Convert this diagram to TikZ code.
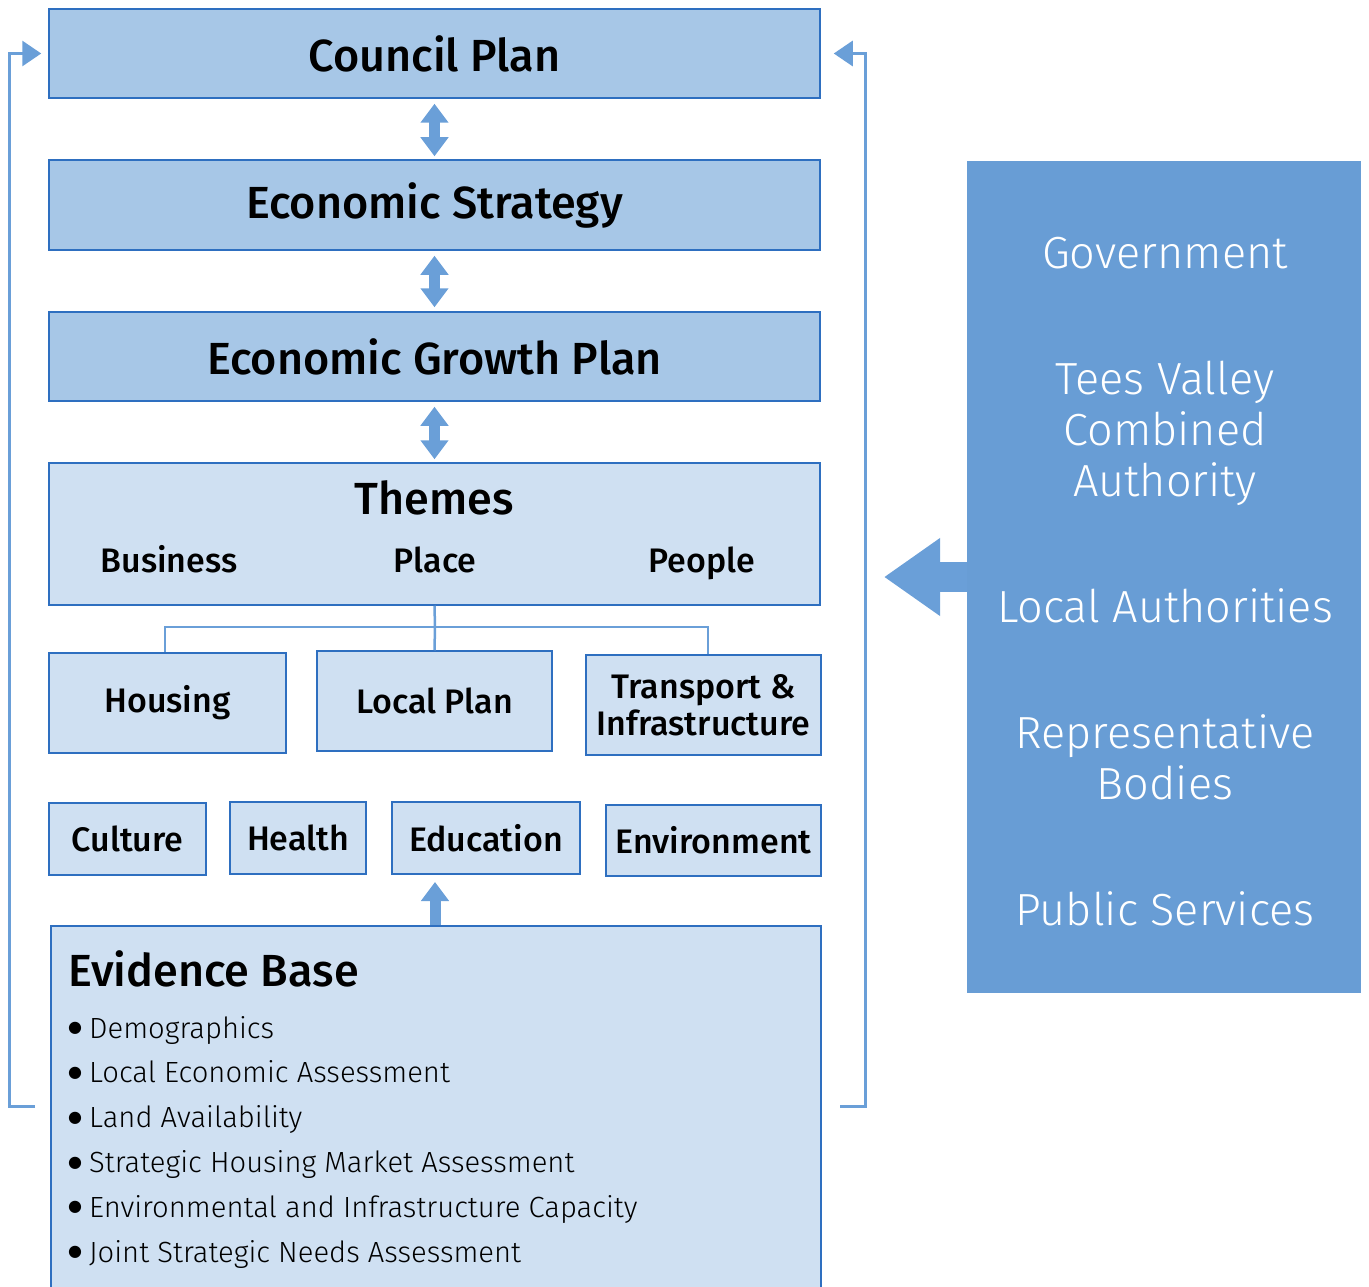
\documentclass[tikz,border=0pt]{standalone}
\usepackage{fontspec}
\setmainfont{Fira Sans}
\newfontfamily\lightfont{Fira Sans Light}
\newfontfamily\medfont{Fira Sans Medium}
\newfontfamily\symfont{DejaVu Sans}
\usetikzlibrary{arrows.meta}

\definecolor{boxdark}{HTML}{A7C7E7}
\definecolor{boxlight}{HTML}{CFE0F2}
\definecolor{edge}{HTML}{2E6FC0}
\definecolor{link}{HTML}{6A9FD8}
\definecolor{panelblue}{HTML}{689DD5}

\newcommand{\fsz}[1]{\fontsize{#1}{#1}\selectfont}
\newcommand{\evbullet}{\raisebox{5.5pt}{\symfont\fontsize{16}{16}\selectfont ●}\hspace{7pt}}

\begin{document}
\begin{tikzpicture}[x=1pt,y=-1pt,
  planbox/.style={draw=edge, line width=1.5pt, fill=boxdark, inner sep=0pt,
    font=\medfont\fsz{45}},
  themebox/.style={draw=edge, line width=1.5pt, fill=boxlight, inner sep=0pt},
  subbox/.style={themebox, font=\medfont\fsz{34}, align=center},
  smallbox/.style={themebox, font=\medfont\fsz{34}},
  themelabel/.style={inner sep=0pt, anchor=base, font=\medfont\fsz{34}},
  paneltext/.style={inner sep=0pt, anchor=base, text=white, font=\lightfont\fsz{45}},
  dblarrow/.style={draw=link, line width=11pt,
    {Triangle[width=27pt,length=19pt]}-{Triangle[width=27pt,length=19pt]}},
  uparrow/.style={draw=link, line width=11pt, -{Triangle[width=27pt,length=19pt]}},
  bigarrow/.style={draw=link, line width=30pt, -{Triangle[width=74pt,length=56pt]}},
  tree/.style={draw=link, line width=2.5pt},
  loopline/.style={draw=link, line width=3pt, -{Triangle[width=25pt,length=19pt]}},
]
\useasboundingbox (0,0) rectangle (1369,1287);

% main plan chain
\node[planbox, minimum width=771pt, minimum height=89pt] (council) at (434.5,53.5) {Council Plan};
\node[planbox, minimum width=771pt, minimum height=90pt] (strategy) at (434.5,205) {Economic Strategy};
\node[planbox, minimum width=771pt, minimum height=89pt] (growth) at (434.5,356.5) {Economic Growth Plan};

% themes
\node[themebox, minimum width=771pt, minimum height=142pt] (themes) at (434.5,534) {};
\node[themelabel, font=\medfont\fsz{45}] (themetitle) at (434.5,514) {Themes};
\node[themelabel] (business) at (169,572) {Business};
\node[themelabel] (place) at (435,572) {Place};
\node[themelabel] (people) at (702,572) {People};

% plans under the themes
\node[subbox, minimum width=237pt, minimum height=100pt] (housing) at (167.5,703) {Housing};
\node[subbox, minimum width=235pt, minimum height=100pt] (localplan) at (434.5,701) {Local Plan};
\node[subbox, minimum width=235pt, minimum height=100pt] (transport) at (703.5,705)
  {Transport \&\\[3pt]Infrastructure};

\node[smallbox, minimum width=157pt, minimum height=72pt] (culture) at (127.5,839) {Culture};
\node[smallbox, minimum width=136pt, minimum height=72pt] (health) at (298,838) {Health};
\node[smallbox, minimum width=188pt, minimum height=72pt] (education) at (486,838) {Education};
\node[smallbox, minimum width=215pt, minimum height=71pt] (environment) at (713.5,840.5) {Environment};

% evidence base
\node[themebox, minimum width=770pt, minimum height=370pt] (evidence) at (436,1111) {};
\node[inner sep=0pt, anchor=base west, font=\medfont\fsz{45}] (evtitle) at (68,986) {Evidence Base};
\node[inner sep=0pt, anchor=north west, align=left, font=\lightfont\fontsize{29.2}{44.8}\selectfont] (evitems) at (68,1016)
  {\evbullet Demographics\\
   \evbullet Local Economic Assessment\\
   \evbullet Land Availability\\
   \evbullet Strategic Housing Market Assessment\\
   \evbullet Environmental and Infrastructure Capacity\\
   \evbullet Joint Strategic Needs Assessment};

% partners panel
\node[fill=panelblue, minimum width=394pt, minimum height=832pt, inner sep=0pt] (panel) at (1164,577) {};
\node[paneltext] (gov) at (1165,268) {Government};
\node[paneltext] (teesA) at (1165,394) {Tees Valley};
\node[paneltext] (teesB) at (1165,445) {Combined};
\node[paneltext] (teesC) at (1165,496) {Authority};
\node[paneltext] (locauth) at (1165,622) {Local Authorities};
\node[paneltext] (repA) at (1165,748) {Representative};
\node[paneltext] (repB) at (1165,799) {Bodies};
\node[paneltext] (pubserv) at (1165,925) {Public Services};

% connectors
\draw[dblarrow] ([yshift=-5pt]council.south) -- ([yshift=3pt]strategy.north);
\draw[dblarrow] ([yshift=-5pt]strategy.south) -- ([yshift=4pt]growth.north);
\draw[dblarrow] ([yshift=-5pt]growth.south) -- ([yshift=3pt]themes.north);

\coordinate (fork) at (435,627);
\draw[tree] (themes.south) -- (fork);
\draw[tree] (fork) -| ([xshift=-2.5pt]housing.north);
\draw[tree] (fork) -| ([xshift=4.5pt]transport.north);
\draw[tree] (fork) -- (localplan.north);

\coordinate (evtip) at (435,882);
\draw[uparrow] ([xshift=-1pt]evidence.north) -- (evtip);

\coordinate (bigtip) at (884,577);
\draw[bigarrow] (panel.west) -- (bigtip);

\coordinate (lstart) at (35,1106);
\coordinate (rstart) at (840,1106);
\draw[loopline] (lstart) -- (9,1106) |- ([xshift=-7pt]council.west);
\draw[loopline] (rstart) -- (865,1106) |- ([xshift=13pt]council.east);
\end{tikzpicture}
\end{document}
